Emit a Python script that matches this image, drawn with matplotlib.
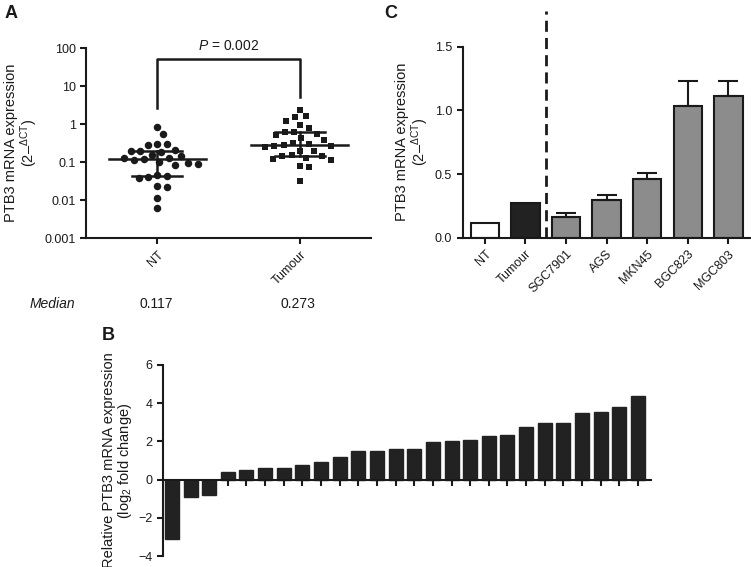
import numpy as np
import matplotlib
matplotlib.use('Agg')
import matplotlib.pyplot as plt
import matplotlib.transforms as mtransforms
from matplotlib.ticker import NullLocator

plt.rcParams['font.family'] = ['Liberation Sans', 'DejaVu Sans']
plt.rcParams['mathtext.fontset'] = 'custom'
plt.rcParams['mathtext.rm'] = 'Liberation Sans'
plt.rcParams['mathtext.it'] = 'Liberation Sans:italic'
plt.rcParams['mathtext.bf'] = 'Liberation Sans:bold'

# panel A data
groups = ['NT', 'Tumour']
nt_values = [0.85, 0.55, 0.30, 0.29, 0.28, 0.21, 0.20, 0.19, 0.18, 0.15, 0.14,
             0.13, 0.125, 0.117, 0.11, 0.10, 0.095, 0.09, 0.085, 0.045, 0.042,
             0.04, 0.038, 0.024, 0.022, 0.011, 0.006]
tumour_values = [2.4, 1.6, 1.5, 1.2, 0.95, 0.78, 0.62, 0.6, 0.55, 0.52, 0.42,
                 0.38, 0.32, 0.3, 0.273, 0.27, 0.26, 0.25, 0.2, 0.19, 0.15,
                 0.145, 0.14, 0.13, 0.12, 0.11, 0.08, 0.075, 0.032]
median_labels = ['0.117', '0.273']
p_label = '$P$ = 0.002'

# panel B data
fold_change = [-3.1, -0.89, -0.80, 0.38, 0.50, 0.59, 0.60, 0.77, 0.91, 1.17,
               1.52, 1.52, 1.59, 1.62, 1.99, 2.04, 2.08, 2.30, 2.34, 2.74,
               2.95, 2.95, 3.49, 3.56, 3.79, 4.38]

# panel C data
cell_lines = ['NT', 'Tumour', 'SGC7901', 'AGS', 'MKN45', 'BGC823', 'MGC803']
expr_c = [0.118, 0.275, 0.163, 0.296, 0.461, 1.037, 1.115]
err_c = [0, 0, 0.033, 0.039, 0.05, 0.19, 0.115]
colors_c = ['white', '#222222', '#8c8c8c', '#8c8c8c', '#8c8c8c', '#8c8c8c', '#8c8c8c']

INK = '#1a1a1a'


def swarm(vals, px_decade=38.0, px_unit=143.0, d=9.2):
    y = np.log10(vals) * px_decade
    placed = []
    offs = np.zeros(len(vals))
    for i in np.argsort(-y):
        for k in range(0, 300):
            found = False
            for sgn in ([0] if k == 0 else [1, -1]):
                cand = sgn * k * 0.5
                if all((cand - px) ** 2 + (y[i] - py) ** 2 >= d * d for px, py in placed):
                    offs[i] = cand
                    placed.append((cand, y[i]))
                    found = True
                    break
            if found:
                break
    return offs / px_unit


def style_axis(ax):
    for s in ['top', 'right']:
        ax.spines[s].set_visible(False)
    for s in ['left', 'bottom']:
        ax.spines[s].set_linewidth(1.5)
        ax.spines[s].set_color(INK)
    ax.tick_params(direction='out', length=4, width=1.5, color=INK,
                   labelsize=9, labelcolor=INK)


fig = plt.figure(figsize=(7.51, 5.67), dpi=100)

# ---- A ----
axA = fig.add_axes([0.1145, 0.5802, 0.3795, 0.3351])
style_axis(axA)
axA.set_yscale('log')
axA.set_ylim(0.001, 100)
axA.set_xlim(-0.5, 1.5)
axA.yaxis.set_minor_locator(NullLocator())
axA.set_yticks([0.001, 0.01, 0.1, 1, 10, 100])
axA.set_yticklabels(['0.001', '0.01', '0.1', '1', '10', '100'])
axA.set_xticks([0, 1])
axA.set_xticklabels(groups, rotation=45, ha='right', rotation_mode='anchor')

for xi, (vals, mk) in enumerate([(nt_values, 'o'), (tumour_values, 's')]):
    vals = np.array(vals)
    axA.plot(xi + swarm(vals), vals, mk, color=INK, markersize=5.4 if mk == 'o' else 5.0,
             markeredgewidth=0, clip_on=False, zorder=3)
    med = np.median(vals)
    q1, q3 = np.percentile(vals, [25, 75])
    axA.plot([xi - 0.34, xi + 0.34], [med, med], color=INK, lw=1.8, zorder=4)
    for q in (q1, q3):
        axA.plot([xi - 0.175, xi + 0.175], [q, q], color=INK, lw=1.8, zorder=4)
    axA.plot([xi, xi], [q1, q3], color=INK, lw=1.8, zorder=4)

axA.plot([0, 0, 1, 1], [2.6, 51, 51, 5.1], color=INK, lw=1.8, clip_on=False)
axA.text(0.5, 75, p_label, ha='center', va='bottom', fontsize=10, color=INK)
axA.set_ylabel('PTB3 mRNA expression\n(2–$^{\\Delta\\mathrm{CT}}$)', fontsize=10.5,
               color=INK, linespacing=1.05)
axA.yaxis.set_label_coords(-0.16, 0.5)

blend = mtransforms.blended_transform_factory(axA.transData, fig.transFigure)
fig.text(0.04, 0.464, 'Median', style='italic', fontsize=10, color=INK, va='center')
for xi, m in enumerate(median_labels):
    fig.text(xi - 0.01, 0.464, m, transform=blend, ha='center', va='center',
             fontsize=10, color=INK)

# ---- C ----
axC = fig.add_axes([0.616, 0.5808, 0.3835, 0.3369])
style_axis(axC)
xc = np.arange(len(cell_lines))
axC.bar(xc, expr_c, width=0.7, color=colors_c, edgecolor=INK, linewidth=1.5, zorder=2)
axC.errorbar(xc[2:], expr_c[2:], yerr=[np.zeros(len(xc) - 2), err_c[2:]], fmt='none',
             ecolor=INK, elinewidth=1.5, capsize=7, capthick=1.5, zorder=3)
axC.set_xlim(-0.55, 6.55)
axC.set_ylim(0, 1.5)
axC.set_yticks([0, 0.5, 1.0, 1.5])
axC.set_yticklabels(['0.0', '0.5', '1.0', '1.5'])
axC.set_xticks(xc)
axC.set_xticklabels(cell_lines, rotation=45, ha='right', rotation_mode='anchor')
axC.plot([1.5, 1.5], [0, 1.78], color=INK, lw=2, ls=(0, (4, 2.2)), clip_on=False)
axC.set_ylabel('PTB3 mRNA expression\n(2–$^{\\Delta\\mathrm{CT}}$)', fontsize=10.5,
               color=INK, linespacing=1.0)
axC.yaxis.set_label_coords(-0.11, 0.5)

# ---- B ----
axB = fig.add_axes([0.217, 0.0194, 0.6498, 0.3369])
style_axis(axB)
xb = np.arange(len(fold_change))
axB.bar(xb, fold_change, width=0.75, color='#222222', edgecolor='#222222', zorder=2)
axB.spines['bottom'].set_position(('data', 0))
axB.set_xlim(-0.48, 25.7)
axB.set_ylim(-4, 6)
axB.set_yticks([-4, -2, 0, 2, 4, 6])
axB.set_xticks(xb)
axB.tick_params(axis='x', labelbottom=False, length=4)
axB.set_ylabel('Relative PTB3 mRNA expression\n(log$_2$ fold change)', fontsize=10.5,
               color=INK, linespacing=1.0)
axB.yaxis.set_label_coords(-0.06, 0.5)

fig.text(0.006, 0.977, 'A', fontsize=13, fontweight='bold', va='center', color=INK)
fig.text(0.512, 0.977, 'C', fontsize=13, fontweight='bold', va='center', color=INK)
fig.text(0.136, 0.409, 'B', fontsize=13, fontweight='bold', va='center', color=INK)

fig.savefig('out.png', dpi=100)
